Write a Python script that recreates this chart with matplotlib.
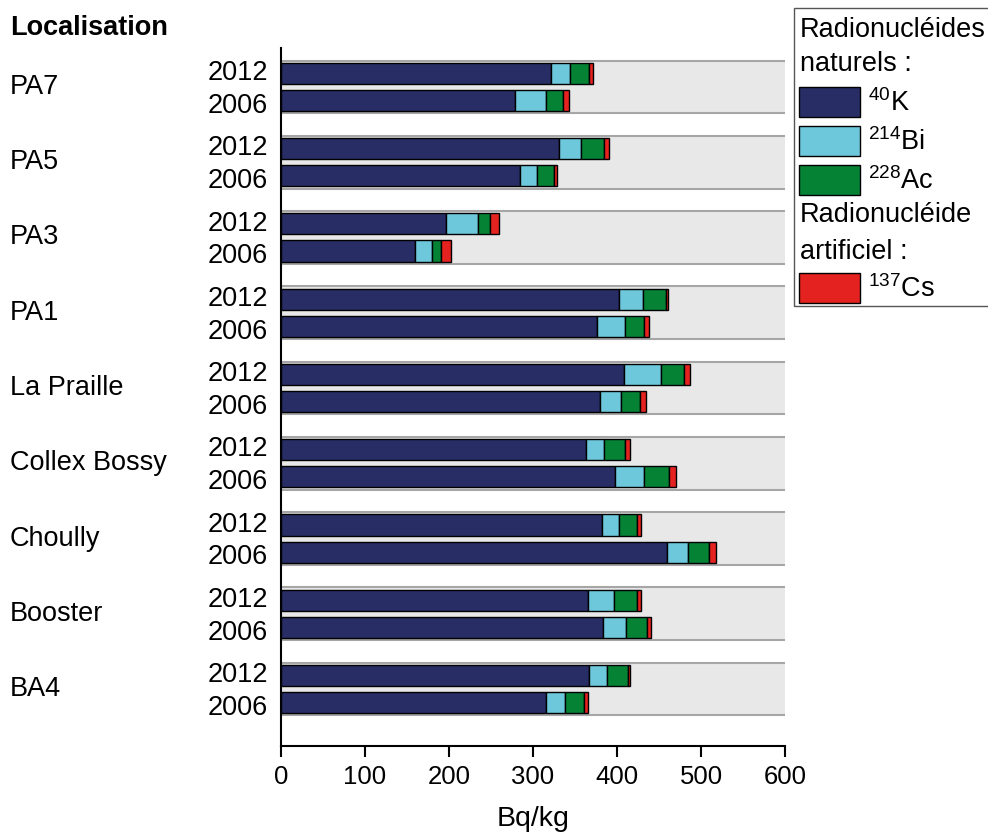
import numpy as np
import matplotlib

matplotlib.use("Agg")
import matplotlib.pyplot as plt
from matplotlib.patches import Rectangle
from matplotlib.transforms import blended_transform_factory

plt.rcParams["font.family"] = ["Liberation Sans", "DejaVu Sans"]
plt.rcParams["mathtext.fontset"] = "custom"
plt.rcParams["mathtext.rm"] = "Liberation Sans"

# Sites, top to bottom
sites = ["PA7", "PA5", "PA3", "PA1", "La Praille", "Collex Bossy",
         "Choully", "Booster", "BA4"]
years = ["2012", "2006"]

# Activities in Bq/kg, one row per site, columns = (2012, 2006)
k40 = np.array([[322, 279], [331, 284], [196, 159], [402, 376], [408, 380],
                [363, 398], [382, 459], [366, 383], [367, 316]])
bi214 = np.array([[22, 36], [26, 21], [38, 21], [29, 33], [44, 25],
                  [21, 34], [20, 25], [31, 28], [21, 22]])
ac228 = np.array([[23, 21], [27, 20], [15, 11], [27, 23], [28, 22],
                  [25, 30], [22, 26], [27, 25], [25, 23]])
cs137 = np.array([[5, 7], [7, 4], [11, 11], [3, 6], [7, 8],
                  [7, 8], [4, 8], [4, 5], [3, 5]])

series = [k40, bi214, ac228, cs137]
colors = ["#282d66", "#6ec8db", "#068235", "#e42320"]
legend_labels = [r"$^{40}$K", r"$^{214}$Bi", r"$^{228}$Ac", r"$^{137}$Cs"]

fig = plt.figure(figsize=(9.88, 8.32), dpi=100)
ax = fig.add_axes([281 / 988, 1 - 745.5 / 832, 504 / 988, 697.5 / 832])

offsets = [-0.18, 0.18]
label_offsets = [-0.225, 0.21]
bar_h = 0.28
centers = np.arange(len(sites))

# grey band behind each site
for c in centers:
    ax.axhspan(c - 0.35, c + 0.35, color="#e8e8e8", lw=0, zorder=0)
    for edge in (c - 0.35, c + 0.35):
        ax.axhline(edge, color="#a6a6a6", lw=1.5, zorder=1)

# stacked bars
for j, off in enumerate(offsets):
    left = np.zeros(len(sites))
    for data, col in zip(series, colors):
        ax.barh(centers + off, data[:, j], height=bar_h, left=left,
                color=col, edgecolor="black", linewidth=1.0, zorder=2)
        left = left + data[:, j]

ax.set_xlim(0, 600)
ax.set_ylim(len(sites) - 1 + 0.749, -0.517)
ax.set_xticks(np.arange(0, 601, 100))
ax.tick_params(axis="x", labelsize=18.5, length=8, width=1.5, pad=6)

# year labels sit a little apart from the bar centres
ytick_pos = np.concatenate([centers + label_offsets[0],
                            centers + label_offsets[1]])
ytick_lab = [years[0]] * len(sites) + [years[1]] * len(sites)
ax.set_yticks(ytick_pos)
ax.set_yticklabels(ytick_lab, fontsize=19.5)
ax.tick_params(axis="y", length=0, pad=9.5)

for side in ("top", "right"):
    ax.spines[side].set_visible(False)
for side in ("left", "bottom"):
    ax.spines[side].set_linewidth(1.5)

ax.set_xlabel("Bq/kg", fontsize=20.5, labelpad=12)

# site names on the far left
trans = blended_transform_factory(fig.transFigure, ax.transData)
for c, name in zip(centers, sites):
    ax.text(10 / 988, c, name, transform=trans, fontsize=19.5,
            ha="left", va="center")
fig.text(10 / 988, 1 - 28 / 832, "Localisation", fontsize=19.5,
         fontweight="bold", ha="left", va="center")

# legend box, built by hand
W, H = 988, 832
fig.patches.append(Rectangle((794 / W, 1 - 306 / H), 200 / W, 298 / H,
                             transform=fig.transFigure, fill=False,
                             edgecolor="#555555", lw=1.0))


def legend_text(y, s):
    fig.text(800 / W, 1 - y / H, s, fontsize=19.5, ha="left", va="center")


def legend_patch(y, col, label):
    fig.patches.append(Rectangle((799 / W, 1 - (y + 15) / H), 61 / W, 30 / H,
                                 transform=fig.transFigure, facecolor=col,
                                 edgecolor="black", lw=1.0))
    fig.text(868 / W, 1 - (y + 1) / H, label, fontsize=19.5,
             ha="left", va="center")


legend_text(30, "Radionucléides")
legend_text(64, "naturels :")
legend_patch(102, colors[0], legend_labels[0])
legend_patch(141, colors[1], legend_labels[1])
legend_patch(180, colors[2], legend_labels[2])
legend_text(215, "Radionucléide")
legend_text(252, "artificiel :")
legend_patch(288, colors[3], legend_labels[3])

fig.savefig("out.png", dpi=100)
